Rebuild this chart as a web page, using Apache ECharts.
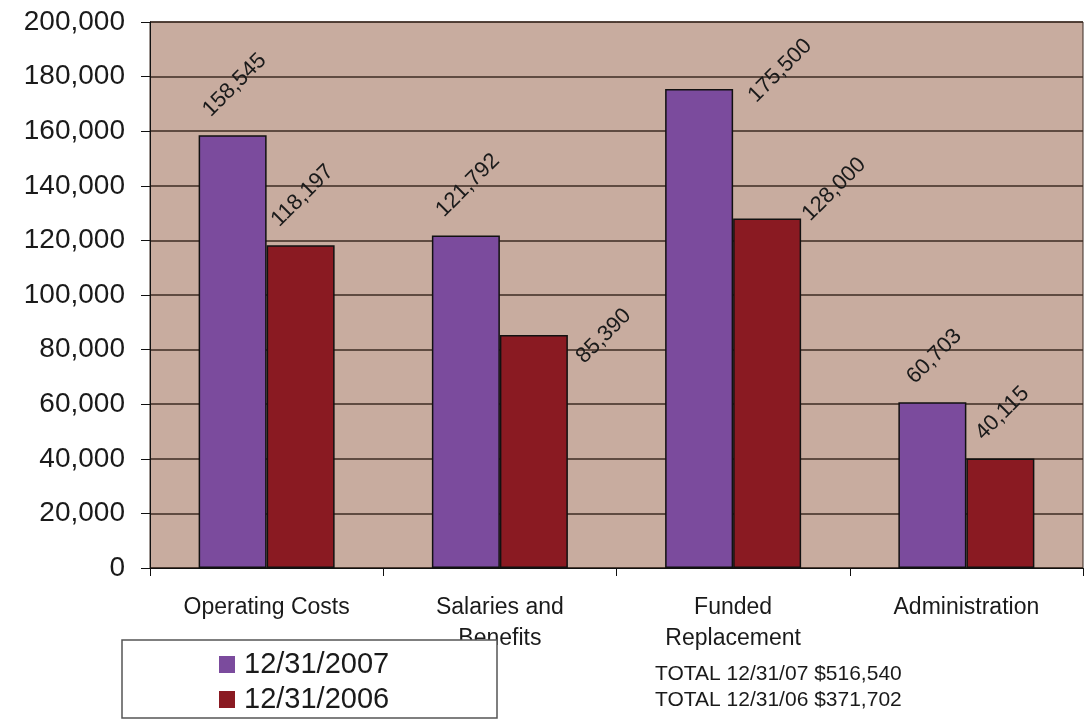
<!DOCTYPE html>
<html>
<head>
<meta charset="utf-8">
<script src="https://cdn.jsdelivr.net/npm/echarts@6/dist/echarts.min.js"></script>
<style>
html,body{margin:0;padding:0;background:#fff;}
#c{width:1092px;height:719px;}
</style>
</head>
<body>
<div id="c"></div>
<script>
var categories = ['Operating Costs', 'Salaries and\nBenefits', 'Funded\nReplacement', 'Administration'];
var seriesNames = ['12/31/2007', '12/31/2006'];
var values2007 = [158545, 121792, 175500, 60703];
var values2006 = [118197, 85390, 128000, 40115];
var totalLines = ['TOTAL 12/31/07 $516,540', 'TOTAL 12/31/06 $371,702'];
// screen-space label nudges (style only) for labels that sit beside their bars in the reference
var labelNudge2007 = [null, null, [81, 32], null];
var labelNudge2006 = [null, [70, 47], [67, 21], null];

var FONT = '"Liberation Sans", Arial, sans-serif';
var LABEL_SIZE = 22;
var chart = echarts.init(document.getElementById('c'), null, {renderer: 'canvas'});

var ctx = document.createElement('canvas').getContext('2d');
ctx.font = LABEL_SIZE + 'px ' + FONT;
function fmt(v) { return v.toLocaleString('en-US'); }
// label offset is applied in the rotated (45deg) text frame; convert from screen offset
function toLocal(s) {
  var k = Math.SQRT1_2;
  return [k * (s[0] - s[1]), k * (s[0] + s[1])];
}

function buildData(values, nudges) {
  return values.map(function (v, i) {
    var w = ctx.measureText(fmt(v)).width;
    var lab = {distance: 0.707 * w / 2 + 22, offset: toLocal(nudges[i] || [2, 0])};
    return {value: v, label: lab};
  });
}

function labelCfg() {
  return {
    show: true,
    position: 'top',
    rotate: 45,
    align: 'center',
    verticalAlign: 'middle',
    fontSize: LABEL_SIZE,
    fontFamily: FONT,
    color: '#1a1a1a',
    formatter: function (p) { return fmt(p.value); }
  };
}

chart.setOption({
  animation: false,
  grid: {
    left: 150, right: 9, top: 22, bottom: 151,
    show: true,
    backgroundColor: '#c8ac9f',
    borderColor: '#3a2a22',
    borderWidth: 1
  },
  legend: {
    orient: 'vertical',
    left: 214, top: 645, height: 100,
    itemWidth: 16, itemHeight: 17, itemGap: 6,
    icon: 'rect',
    z: 20,
    itemStyle: {borderWidth: 0},
    textStyle: {fontSize: 29, fontFamily: FONT, color: '#1a1a1a', padding: [0, 0, 0, 4]},
    data: seriesNames
  },
  xAxis: {
    type: 'category',
    data: categories,
    axisLine: {lineStyle: {color: '#111', width: 1}},
    axisTick: {show: true, length: 8, lineStyle: {color: '#111'}},
    axisLabel: {fontSize: 23, fontFamily: FONT, color: '#1a1a1a', margin: 24, lineHeight: 31, interval: 0}
  },
  yAxis: {
    type: 'value',
    min: 0, max: 200000, interval: 20000,
    axisLine: {show: true, lineStyle: {color: '#111'}},
    axisTick: {show: true, length: 9, lineStyle: {color: '#111'}},
    splitLine: {lineStyle: {color: '#3d2b22', width: 1.5}},
    axisLabel: {
      fontSize: 28, fontFamily: FONT, color: '#1a1a1a', margin: 25,
      formatter: function (v) { return fmt(v); }
    }
  },
  series: [
    {
      name: seriesNames[0], type: 'bar', data: buildData(values2007, labelNudge2007),
      barWidth: 68, barGap: '0%',
      itemStyle: {color: '#7b4b9d', borderColor: '#111', borderWidth: 1.5},
      label: labelCfg()
    },
    {
      name: seriesNames[1], type: 'bar', data: buildData(values2006, labelNudge2006),
      barWidth: 68, barGap: '0%',
      itemStyle: {color: '#8a1a22', borderColor: '#111', borderWidth: 1.5},
      label: labelCfg()
    }
  ],
  graphic: [
    {
      type: 'rect', z: 10,
      shape: {x: 122, y: 640, width: 375, height: 78},
      style: {fill: '#fff', stroke: '#555', lineWidth: 1.5}
    },
    {
      type: 'text', z: 10, left: 655, top: 664,
      style: {text: totalLines[0], fontSize: 21, fontFamily: FONT, fill: '#1a1a1a'}
    },
    {
      type: 'text', z: 10, left: 655, top: 690,
      style: {text: totalLines[1], fontSize: 21, fontFamily: FONT, fill: '#1a1a1a'}
    }
  ]
});
</script>
</body>
</html>
